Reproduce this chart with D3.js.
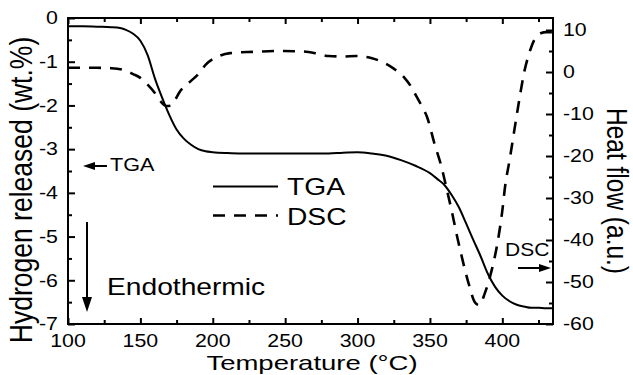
<!DOCTYPE html>
<html><head><meta charset="utf-8">
<script src="https://cdn.jsdelivr.net/npm/d3@7"></script>
<style>
html,body{margin:0;padding:0;background:#fff;}
svg text{font-family:"Liberation Sans",Arial,sans-serif;fill:#000;}
</style></head>
<body><svg id="c" width="633" height="375"></svg>
<script>
// ---- data ----
const tgaTemp = [100,110,120,130,136,140,145,150,155,160,165,170,175,180,185,190,195,200,210,220,240,260,280,290,300,310,320,330,340,350,355,360,365,370,375,380,385,390,395,400,405,410,415,420,425,430,435];
const tgaVal  = [-0.19,-0.19,-0.2,-0.21,-0.23,-0.27,-0.36,-0.52,-0.85,-1.38,-1.82,-2.22,-2.55,-2.76,-2.9,-3.0,-3.05,-3.07,-3.09,-3.1,-3.1,-3.1,-3.1,-3.08,-3.07,-3.1,-3.15,-3.25,-3.38,-3.55,-3.68,-3.82,-4.05,-4.33,-4.7,-5.08,-5.45,-5.85,-6.15,-6.35,-6.48,-6.56,-6.6,-6.63,-6.63,-6.64,-6.64];
const dscTemp = [100,110,120,130,140,145,150,155,160,164,168,171,174,177,184,190,195,203,212,228,246,262,272,280,290,299,310,317,325,332,337,341,345,348,353,358,361,365,369,372,377,381,384,388,393,396.5,400,402,405,408,412,415,418.6,422,427,430,434,435];
const dscVal  = [1.0,1.0,1.0,0.9,0.3,-0.5,-1.4,-3.0,-5.0,-7.0,-8.1,-8.0,-6.6,-4.8,-2.4,-0.5,1.7,3.6,4.5,4.8,5.0,4.9,4.4,3.8,3.7,3.8,3.3,2.4,0.8,-1.2,-3.5,-6.0,-8.5,-10.7,-16.9,-22.6,-27,-33,-39.5,-44,-50.7,-54.8,-55.5,-52.6,-46.7,-41,-33,-27,-21,-14.5,-6,-0.2,4.5,7.6,9.3,9.5,9.5,9.5];
const xMajor = [100,150,200,250,300,350,400];
const xMinor = [125,175,225,275,325,375,425];
const yLeftMajor = [0,-1,-2,-3,-4,-5,-6,-7];
const yLeftMinor = [-0.5,-1.5,-2.5,-3.5,-4.5,-5.5,-6.5];
const yRightMajor = [10,0,-10,-20,-30,-40,-50,-60];
const yRightMinor = [5,-5,-15,-25,-35,-45,-55];
const seriesNames = ["TGA","DSC"];

// ---- layout ----
const L=68, R=553, T=18, B=324, SX=1.2;
const svg = d3.select("#c");
const x = d3.scaleLinear().domain([100,435]).range([L,R]);
const yL = d3.scaleLinear().domain([-7,0]).range([B,T]);
const yR = d3.scaleLinear().domain([-60,12.86]).range([B,T]);

function txt(s, px, py, size, anchor, sx){
  const g = svg.append("g").attr("transform",`translate(${px},${py}) scale(${sx||SX},1)`);
  g.append("text").attr("text-anchor",anchor||"start").attr("font-size",size).text(s);
  return g;
}

// axes ticks (inward)
function ticks(axisFn, scale, vals, len, tr){
  svg.append("g").attr("transform",tr)
    .call(axisFn(scale).tickValues(vals).tickSize(-len).tickFormat(""))
    .call(g=>g.select(".domain").remove())
    .call(g=>g.selectAll("line").attr("stroke","#000").attr("stroke-width",2));
}
ticks(d3.axisBottom, x, xMajor, 6, `translate(0,${B})`);
ticks(d3.axisBottom, x, xMinor, 4, `translate(0,${B})`);
ticks(d3.axisTop, x, xMajor, 6, `translate(0,${T})`);
ticks(d3.axisTop, x, xMinor, 4, `translate(0,${T})`);
ticks(d3.axisLeft, yL, yLeftMajor, 7, `translate(${L},0)`);
ticks(d3.axisLeft, yL, yLeftMinor, 4, `translate(${L},0)`);
ticks(d3.axisRight, yR, yRightMajor, 7, `translate(${R},0)`);
ticks(d3.axisRight, yR, yRightMinor, 4, `translate(${R},0)`);

// tick labels
const TS = 17.5, TSX = 1.22;
xMajor.forEach(v=>txt(String(v), x(v), 346.5, TS, "middle", TSX));
yLeftMajor.forEach(v=>txt(String(v), 58, yL(v)+6.3, TS, "end", TSX));
yRightMajor.forEach(v=>txt(String(v), 563, yR(v)+6.3, TS, "start", TSX));

// frame
svg.append("rect").attr("x",L).attr("y",T).attr("width",R-L).attr("height",B-T)
  .attr("fill","none").attr("stroke","#000").attr("stroke-width",2);

// lines
const tga = tgaTemp.map((t,i)=>[t,tgaVal[i]]);
const dsc = dscTemp.map((t,i)=>[t,dscVal[i]]);
svg.append("path").datum(tga)
  .attr("d", d3.line().x(d=>x(d[0])).y(d=>yL(d[1])).curve(d3.curveMonotoneX))
  .attr("fill","none").attr("stroke","#000").attr("stroke-width",2);
svg.append("path").datum(dsc)
  .attr("d", d3.line().x(d=>x(d[0])).y(d=>yR(d[1])).curve(d3.curveMonotoneX))
  .attr("fill","none").attr("stroke","#000").attr("stroke-width",2.6).attr("stroke-dasharray","12,9");

// axis titles
svg.append("g").attr("transform",`translate(32,190) rotate(-90) scale(1.04,${SX})`)
  .append("text").attr("text-anchor","middle").attr("font-size",25.5).text("Hydrogen released (wt.%)");
svg.append("g").attr("transform",`translate(607,191) rotate(90) scale(1,${SX})`)
  .append("text").attr("text-anchor","middle").attr("font-size",24.5).text("Heat flow (a.u.)");
txt("Temperature (°C)", 312, 369.5, 21, "middle", 1.31);

// legend
svg.append("line").attr("x1",213).attr("x2",278).attr("y1",186.5).attr("y2",186.5)
  .attr("stroke","#000").attr("stroke-width",2);
svg.append("line").attr("x1",213).attr("x2",278).attr("y1",215.5).attr("y2",215.5)
  .attr("stroke","#000").attr("stroke-width",2.6).attr("stroke-dasharray","12,9");
txt(seriesNames[0], 287, 195, 23.5);
txt(seriesNames[1], 287, 225, 23.5);

// annotations
txt("Endothermic", 107, 295, 23.5);
txt("TGA", 110, 171, 18);
txt("DSC", 505, 256, 17.5);
// arrows
svg.append("line").attr("x1",87).attr("x2",87).attr("y1",222).attr("y2",300).attr("stroke","#000").attr("stroke-width",2);
svg.append("path").attr("d","M82,297 L92,297 L87,312 Z").attr("fill","#000");
svg.append("line").attr("x1",90).attr("x2",107).attr("y1",166).attr("y2",166).attr("stroke","#000").attr("stroke-width",2);
svg.append("path").attr("d","M95,162 L95,170 L83,166 Z").attr("fill","#000");
svg.append("line").attr("x1",518).attr("x2",542).attr("y1",268).attr("y2",268).attr("stroke","#000").attr("stroke-width",2);
svg.append("path").attr("d","M539,264 L539,272 L551,268 Z").attr("fill","#000");
</script></body></html>
